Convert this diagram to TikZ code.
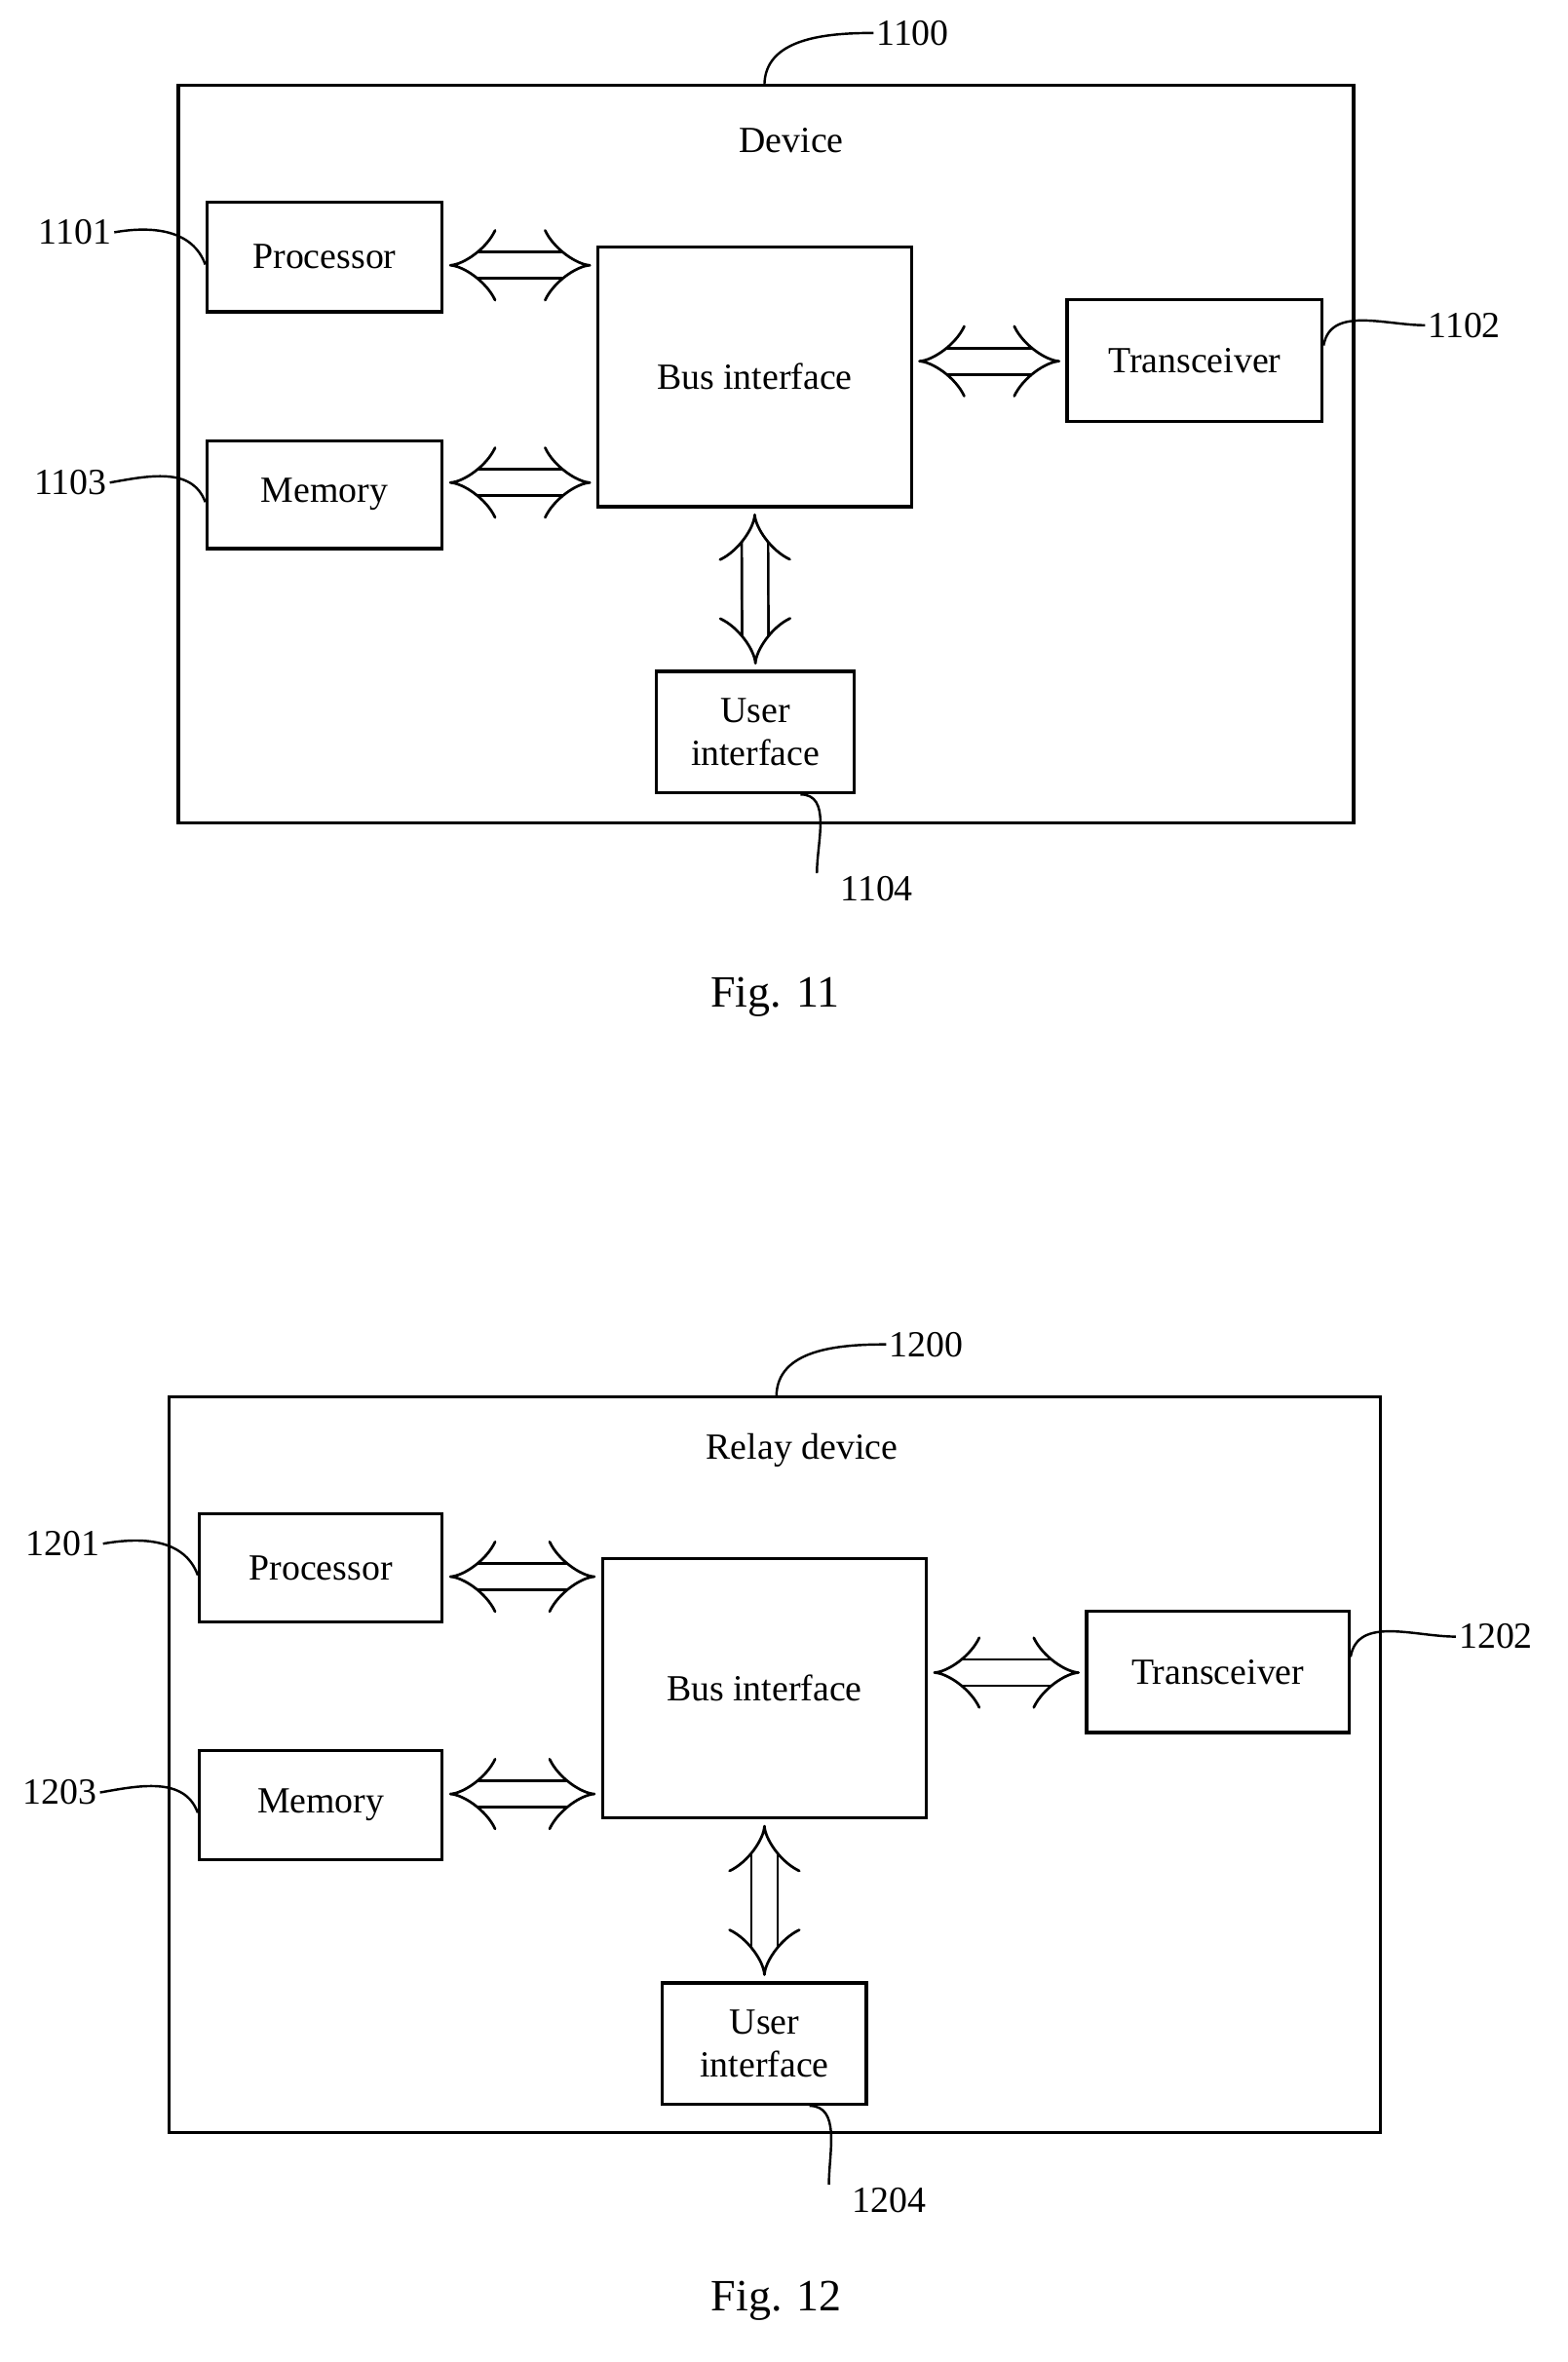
\documentclass[tikz,border=0pt]{standalone}
\usepackage{fontspec}
\setmainfont{Liberation Serif}
\usetikzlibrary{arrows.meta,positioning}
\tikzset{box/.style={rectangle,draw,line width=1.2pt,inner sep=0pt,font=\fontsize{14}{16}\selectfont,align=center},
fat/.style={draw,line width=1pt,double,double distance=9pt,{Implies[length=9pt]}-{Implies[length=9pt]},shorten <=2pt,shorten >=2pt},
lead/.style={draw,line width=0.9pt},
num/.style={font=\fontsize{14}{16}\selectfont,inner sep=1pt}}
\begin{document}
\begin{tikzpicture}[x=0.02cm,y=-0.02cm]
\useasboundingbox (0,0) rectangle (1046,1576);

%Fig. 11
 \node[box,minimum width=784*0.02cm,minimum height=492*0.02cm] (Dev) at (511,303) {};
 \node[num] (DevLabel) at (528,94) {Device};
 \node[box,minimum width=157*0.02cm,minimum height=73*0.02cm] (Proc1) at (216.5,171.5) {Processor};
 \node[box,minimum width=157*0.02cm,minimum height=72*0.02cm] (Mem1) at (216.5,330) {Memory};
 \node[box,minimum width=209*0.02cm,minimum height=173*0.02cm] (Bus1) at (503.5,251.5) {Bus interface};
 \node[box,minimum width=170*0.02cm,minimum height=81*0.02cm] (Trans1) at (797,240.5) {Transceiver};
 \node[box,minimum width=132*0.02cm,minimum height=81*0.02cm] (User1) at (504,488.5) {User\\interface};
 \draw[fat] (Proc1.east |- 0,177) -- (Bus1.west |- 0,177);
 \draw[fat] (Mem1.east |- 0,322) -- (Bus1.west |- 0,322);
 \draw[fat] (Bus1.east |- 0,241) -- (Trans1.west |- 0,241);
 \draw[fat] (Bus1.south) -- (User1.north);

 \node[num] (N1100) at (609,22) {1100};
 \node[num] (N1101) at (50,155) {1101};
 \node[num] (N1103) at (47,322) {1103};
 \node[num] (N1102) at (977,217) {1102};
 \node[num] (N1104) at (585,593) {1104};
 \coordinate (Top1) at (510,57);
 \draw[lead] (Top1) to[out=90,in=180] (N1100.west);
 \draw[lead] (N1101.east) to[out=10,in=110] ([yshift=-0.1cm]Proc1.west);
 \draw[lead] (N1103.east) to[out=10,in=110] ([yshift=-0.1cm]Mem1.west);
 \draw[lead] ([yshift=0.2cm]Trans1.east) to[out=80,in=180] (N1102.west);
 \draw[lead] ([xshift=0.6cm]User1.south) to[out=0,in=90] ([xshift=-0.8cm]N1104.north);
 \node[font=\fontsize{17}{20}\selectfont] (Fig11) at (517,665) {Fig. 11};

%Fig. 12
 \node[box,minimum width=808*0.02cm,minimum height=491*0.02cm] (Relay) at (517,1177.5) {};
 \node[num] (RelayLabel) at (535,968) {Relay device};
 \node[box,minimum width=162*0.02cm,minimum height=72*0.02cm] (Proc2) at (214,1046) {Processor};
 \node[box,minimum width=162*0.02cm,minimum height=73*0.02cm] (Mem2) at (214,1204.5) {Memory};
 \node[box,minimum width=216*0.02cm,minimum height=173*0.02cm] (Bus2) at (510,1126.5) {Bus interface};
 \node[box,minimum width=175*0.02cm,minimum height=81*0.02cm] (Trans2) at (812.5,1115.5) {Transceiver};
 \node[box,minimum width=136*0.02cm,minimum height=81*0.02cm] (User2) at (510,1363.5) {User\\interface};
 \draw[fat] (Proc2.east |- 0,1052) -- (Bus2.west |- 0,1052);
 \draw[fat] (Mem2.east |- 0,1197) -- (Bus2.west |- 0,1197);
 \draw[fat] (Bus2.east |- 0,1116) -- (Trans2.west |- 0,1116);
 \draw[fat] (Bus2.south) -- (User2.north);

 \node[num] (N1200) at (618,897) {1200};
 \node[num] (N1201) at (42,1030) {1201};
 \node[num] (N1203) at (40,1196) {1203};
 \node[num] (N1202) at (998,1092) {1202};
 \node[num] (N1204) at (593,1468) {1204};
 \coordinate (Top2) at (518,932);
 \draw[lead] (Top2) to[out=90,in=180] (N1200.west);
 \draw[lead] (N1201.east) to[out=10,in=110] ([yshift=-0.1cm]Proc2.west);
 \draw[lead] (N1203.east) to[out=10,in=110] ([yshift=-0.1cm]Mem2.west);
 \draw[lead] ([yshift=0.2cm]Trans2.east) to[out=80,in=180] (N1202.west);
 \draw[lead] ([xshift=0.6cm]User2.south) to[out=0,in=90] ([xshift=-0.8cm]N1204.north);
 \node[font=\fontsize{17}{20}\selectfont] (Fig12) at (518,1535) {Fig. 12};
\end{tikzpicture}
\end{document}
